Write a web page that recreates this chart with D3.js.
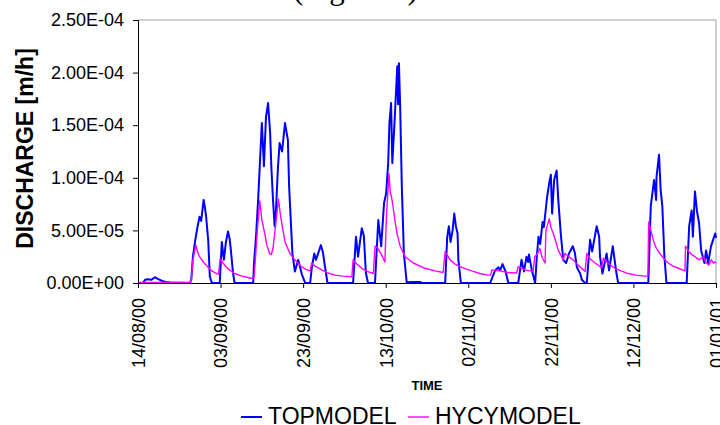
<!DOCTYPE html>
<html>
<head>
<meta charset="utf-8">
<script src="https://cdn.jsdelivr.net/npm/d3@7"></script>
<style>
  body { margin: 0; background: #fff; }
  svg { display: block; font-family: Arial, "Liberation Sans", sans-serif; }
</style>
</head>
<body>
<div id="chart"></div>
<script>
// values, discharge in units of 1e-5 m/h, time in days after 14/08/00
var UNIT = 1e-5;
var startDate = "14/08/00";
var tickLabels = ["14/08/00", "03/09/00", "23/09/00", "13/10/00", "02/11/00", "22/11/00", "12/12/00", "01/01/01"];
var yTicks = [0, 5, 10, 15, 20, 25];

var topmodel = [
  [0, 0], [1.2, 0], [1.7, 0.3], [2.4, 0.35], [3.2, 0.3], [4.1, 0.55], [4.8, 0.4], [5.8, 0.2], [6.8, 0.1], [7.8, 0.05],
  [12.6, 0], [12.9, 0.3], [13.3, 2.5], [14.0, 4.4], [14.4, 5.3], [14.9, 6.3], [15.3, 5.9], [15.9, 7.9], [16.2, 7.2],
  [16.5, 6.3], [17.0, 4.1], [17.4, 0.6], [17.9, 0],
  [19.8, 0], [20.3, 3.9], [20.8, 2.2], [21.3, 3.9], [21.8, 4.9], [22.2, 4.2], [22.5, 3.1], [23.0, 1.0], [23.4, 0],
  [27.9, 0], [28.1, 1.9], [28.6, 4.5], [29.1, 7.9], [29.6, 12.0], [30.0, 15.2], [30.5, 11.1], [31.0, 15.8], [31.5, 17.1],
  [32.0, 14.3], [32.3, 11.0], [32.7, 7.9], [33.1, 5.4], [33.4, 6.8], [33.9, 11.0], [34.3, 13.3], [34.9, 12.5], [35.6, 15.2],
  [36.3, 13.6], [36.6, 9.2], [37.0, 6.0], [37.4, 2.8], [38.0, 1.1], [38.8, 2.2], [39.2, 1.6], [39.7, 0.8], [40.5, 0],
  [41.7, 0], [42.1, 1.5], [42.7, 2.8], [43.1, 2.2], [43.8, 3.0], [44.3, 3.6], [44.8, 2.9], [45.3, 1.5], [45.9, 0],
  [52.1, 0], [52.8, 4.4], [53.3, 2.5], [54.2, 5.2], [54.7, 4.5], [55.2, 0.95], [55.7, 0],
  [57.4, 0], [58.2, 6.0], [58.9, 3.5], [59.6, 7.6], [60.1, 8.5], [60.6, 11.4], [60.9, 15.2], [61.3, 17.1], [61.6, 11.4],
  [62.2, 15.8], [62.8, 20.6], [63.0, 17.0], [63.2, 20.9], [63.5, 16.8], [63.9, 9.2], [64.4, 2.8], [65.1, 0],
  [65.9, 0.1], [68.3, 0.1], [68.8, 0],
  [74.4, 0], [74.9, 4.4], [75.3, 5.4], [75.7, 3.9], [76.2, 5.0], [76.6, 6.6], [77.0, 5.4], [77.4, 4.7], [77.6, 2.2], [78.2, 0],
  [85.3, 0], [85.9, 0.6], [86.5, 1.2], [87.3, 1.5], [87.7, 1.2], [88.3, 1.8], [89.1, 1.0], [89.7, 0],
  [92.1, 0], [92.9, 2.2], [93.5, 1.1], [94.1, 2.5], [94.5, 2.0], [94.7, 2.7], [95.4, 1.2], [96.2, 0],
  [96.6, 2.5], [97.0, 4.4], [97.4, 3.7], [98.0, 5.8], [98.3, 5.3], [99.1, 8.2], [99.6, 9.5], [100.0, 10.3], [100.3, 6.6],
  [100.8, 9.8], [101.4, 10.7], [101.8, 7.9], [102.4, 4.7], [103.0, 2.2], [103.7, 1.9], [104.4, 2.8], [105.3, 3.5],
  [105.8, 2.9], [106.3, 1.5], [107.1, 0.9], [107.5, 0.3], [108.3, 0],
  [108.7, 0], [109.5, 4.1], [110.0, 3.0], [111.1, 5.4], [111.7, 4.4], [111.9, 2.5], [112.5, 0.9], [113.5, 2.8], [114.1, 1.2],
  [115.0, 3.5], [115.3, 2.6], [115.9, 0.9], [116.3, 0],
  [123.6, 0], [124.2, 7.3], [125.0, 9.8], [125.5, 7.9], [125.6, 10.1], [126.2, 12.2], [126.6, 8.8], [127.0, 7.3], [127.5, 2.5], [128.0, 0],
  [132.9, 0], [133.5, 5.4], [134.1, 6.9], [134.4, 4.4], [134.9, 8.7], [135.4, 6.8], [135.9, 5.7], [136.4, 3.1], [137.2, 1.9],
  [137.6, 3.1], [138.1, 1.9], [138.8, 3.5], [139.3, 4.1], [139.8, 4.7], [140, 4.3]
];

var hycymodel = [
  [0, 0.05], [12.6, 0.05], [12.9, 0.3], [13.3, 2.2], [14.0, 3.6], [14.4, 3.0], [14.9, 2.5], [16.0, 1.9], [17.0, 1.5],
  [17.9, 1.15], [19.0, 0.9], [19.5, 0.85], [19.9, 2.3], [20.6, 1.9], [21.3, 1.55], [22.3, 1.2], [23.4, 0.9], [25.2, 0.65],
  [27.4, 0.45], [28.1, 0.5], [28.3, 1.5], [28.9, 5.0], [29.5, 7.8], [30.0, 6.0], [30.7, 4.7], [31.2, 3.6], [31.9, 2.8],
  [32.3, 2.7], [32.7, 3.3], [33.1, 4.7], [33.7, 6.8], [34.0, 8.0], [34.6, 6.2], [35.6, 3.9], [36.8, 2.8], [38.0, 2.2],
  [39.6, 1.55], [40.7, 1.3], [41.7, 1.15], [42.1, 1.9], [42.9, 1.6], [44.5, 1.25], [46.0, 0.95], [47.7, 0.75], [49.6, 0.65],
  [51.8, 0.6], [52.1, 2.2], [53.0, 1.8], [54.2, 1.4], [55.5, 1.1], [57.0, 0.9], [57.4, 3.5], [58.1, 3.3], [59.1, 2.6],
  [59.8, 2.0], [60.2, 6.6], [60.8, 10.4], [61.1, 8.6], [61.4, 8.2], [61.8, 7.2], [62.2, 6.0], [62.8, 4.6], [63.5, 3.5],
  [64.7, 2.5], [66.7, 1.9], [69.5, 1.4], [71.9, 1.15], [73.9, 1.0], [74.4, 3.0], [75.6, 2.2], [76.8, 1.8], [78.0, 1.55],
  [79.4, 1.35], [81.2, 1.1], [82.8, 0.9], [84.8, 0.75], [85.4, 0.75], [85.7, 1.25], [87.7, 1.15], [89.6, 1.0], [91.7, 0.95],
  [92.1, 1.55], [93.7, 1.25], [95.7, 1.1], [96.1, 2.5], [96.8, 2.8], [97.3, 3.3], [97.9, 2.4], [98.6, 1.9], [98.8, 5.0],
  [99.6, 6.1], [100.0, 5.3], [100.6, 4.7], [101.3, 3.8], [101.8, 3.1], [103.0, 2.2], [103.4, 2.8], [104.4, 2.5],
  [105.4, 2.2], [106.6, 1.7], [108.3, 1.1], [108.7, 2.8], [109.5, 2.3], [110.7, 1.9], [112.3, 1.45], [112.7, 2.35],
  [113.8, 1.9], [115.5, 1.4], [117.0, 1.15], [118.7, 0.9], [120.6, 0.75], [122.8, 0.65], [123.5, 0.65], [123.7, 5.8],
  [124.8, 4.1], [125.4, 3.4], [126.4, 2.8], [127.4, 2.3], [128.4, 1.9], [129.6, 1.6], [130.9, 1.4], [132.5, 1.15],
  [132.6, 3.5], [133.4, 3.0], [134.1, 2.7], [134.9, 2.5], [135.9, 2.2], [137.0, 2.5], [137.5, 2.0], [138.2, 1.7],
  [138.9, 2.2], [139.4, 1.9], [139.8, 2.0], [140, 1.9]
];

var width = 720, height = 425,
    plotLeft = 138, plotRight = 716, plotTop = 20, plotBottom = 283;

var parse = d3.utcParse("%d/%m/%y"),
    t0 = parse(startDate),
    tickDates = tickLabels.map(parse);

function dayToDate(d) { return new Date(t0.getTime() + d * 864e5); }

function sci(v) {
  var s = v.toExponential(2).split("e"),
      e = +s[1],
      pad = Math.abs(e) < 10 ? "0" + Math.abs(e) : "" + Math.abs(e);
  return s[0] + "E" + (e < 0 ? "-" : "+") + pad;
}

var x = d3.scaleUtc().domain([tickDates[0], tickDates[tickDates.length - 1]]).range([plotLeft, plotRight]);
var y = d3.scaleLinear().domain([0, 25 * UNIT]).range([plotBottom, plotTop]);

var svg = d3.select("#chart").append("svg")
    .attr("width", width)
    .attr("height", height);

// cut-off caption above the chart
svg.append("text")
    .attr("x", 293).attr("y", -1)
    .style("font-family", "'Times New Roman', 'Liberation Serif', serif")
    .style("font-size", "31px")
    .text("(Figure 5)");

// plot frame (grey top and right)
svg.append("path")
    .attr("d", "M" + plotLeft + "," + plotTop + "H" + plotRight + "V" + plotBottom)
    .attr("fill", "none")
    .attr("stroke", "#a0a0a0")
    .attr("stroke-width", 1);

var line = d3.line()
    .x(function(d) { return x(dayToDate(d[0])); })
    .y(function(d) { return y(d[1] * UNIT); });

svg.append("path")
    .datum(topmodel)
    .attr("d", line)
    .attr("fill", "none")
    .attr("stroke", "#0000ff")
    .attr("stroke-width", 2)
    .attr("stroke-linejoin", "round");

svg.append("path")
    .datum(hycymodel)
    .attr("d", line)
    .attr("fill", "none")
    .attr("stroke", "#ff00ff")
    .attr("stroke-width", 1.4)
    .attr("stroke-linejoin", "round");

var yAxis = svg.append("g")
    .attr("transform", "translate(" + plotLeft + ",0)")
    .call(d3.axisLeft(y)
      .tickValues(yTicks.map(function(v) { return v * UNIT; }))
      .tickSize(5).tickPadding(9)
      .tickFormat(sci));
yAxis.selectAll("text").style("font-size", "18px").attr("fill", "#000");

var xAxis = svg.append("g")
    .attr("transform", "translate(0," + plotBottom + ")")
    .call(d3.axisBottom(x)
      .tickValues(tickDates)
      .tickSize(5)
      .tickFormat(function(d, i) { return tickLabels[i]; }));
xAxis.selectAll("text")
    .attr("transform", "rotate(-90)")
    .attr("x", -15).attr("y", 0).attr("dy", "0.35em")
    .style("text-anchor", "end")
    .style("font-size", "18px")
    .attr("fill", "#000");

svg.selectAll(".domain").attr("stroke", "#000");
svg.selectAll(".tick line").attr("stroke", "#000");

// axis titles
svg.append("text")
    .attr("transform", "translate(33," + ((plotTop + plotBottom) / 2 - 3) + ") rotate(-90)")
    .attr("text-anchor", "middle")
    .style("font-size", "23px")
    .style("font-weight", "bold")
    .text("DISCHARGE [m/h]");

svg.append("text")
    .attr("x", (plotLeft + plotRight) / 2).attr("y", 390)
    .attr("text-anchor", "middle")
    .style("font-size", "13px")
    .style("font-weight", "bold")
    .text("TIME");

// legend
var legend = [
  { name: "TOPMODEL", color: "#0000ff", w: 2, x: 241 },
  { name: "HYCYMODEL", color: "#ff00ff", w: 1.4, x: 408 }
];
var lg = svg.selectAll(".legend").data(legend).enter().append("g")
    .attr("class", "legend")
    .attr("transform", function(d) { return "translate(" + d.x + ",417)"; });
lg.append("line")
    .attr("x1", 0).attr("x2", 21)
    .attr("stroke", function(d) { return d.color; })
    .attr("stroke-width", function(d) { return d.w; });
lg.append("text")
    .attr("x", 27).attr("y", 7)
    .style("font-size", "23px")
    .text(function(d) { return d.name; });
</script>
</body>
</html>
